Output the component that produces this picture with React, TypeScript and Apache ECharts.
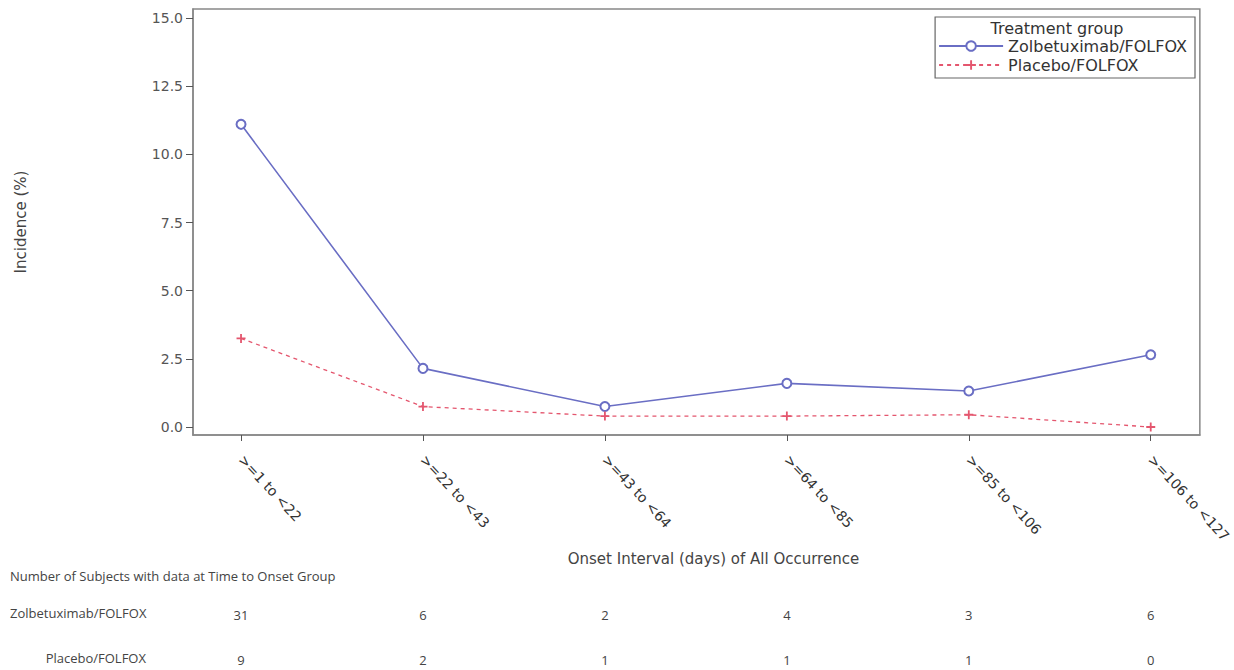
import React, { useEffect, useRef } from "react";
import * as echarts from "echarts";

const categories = [">=1 to <22", ">=22 to <43", ">=43 to <64", ">=64 to <85", ">=85 to <106", ">=106 to <127"];
const zolbeValues = [11.1, 2.15, 0.75, 1.6, 1.32, 2.65];
const placeboValues = [3.25, 0.75, 0.4, 0.4, 0.45, 0.0];
const zolbeCounts = [31, 6, 2, 4, 3, 6];
const placeboCounts = [9, 2, 1, 1, 1, 0];
const yTicks = [0, 2.5, 5, 7.5, 10, 12.5, 15];
const seriesNames = ["Zolbetuximab/FOLFOX", "Placebo/FOLFOX"];

const FONT = "'Open Sans', 'Liberation Sans', sans-serif";
const DJ = "'DejaVu Sans', Verdana, sans-serif";
const idx = categories.map((_, i) => i);
const XMIN = -0.264;
const XMAX = 5.27;

const countAxis = (counts: number[], offset: number) => ({
  type: "value",
  min: XMIN,
  max: XMAX,
  position: "bottom",
  offset,
  axisLine: { show: false, onZero: false },
  axisTick: { show: false },
  splitLine: { show: false },
  axisLabel: {
    customValues: idx,
    formatter: (v: number) => String(counts[Math.round(v)]),
    color: "#444",
    fontSize: 13,
    fontFamily: FONT,
    margin: 0,
    verticalAlign: "middle",
  },
});

export default function App() {
  const ref = useRef<HTMLDivElement>(null);
  useEffect(() => {
    document.body.style.margin = "0";
    const chart = echarts.init(ref.current!, null, { renderer: "svg" });
    chart.setOption({
      animation: false,
      backgroundColor: "#fff",
      grid: {
        left: 193,
        right: 34,
        top: 9,
        bottom: 235,
        show: true,
        borderColor: "#888",
        borderWidth: 1.5,
      },
      legend: {
        data: seriesNames,
        orient: "vertical",
        right: 39,
        top: 17,
        padding: [21, 8, 5, 3],
        borderColor: "#666",
        borderWidth: 1.2,
        itemWidth: 64,
        itemHeight: 12,
        itemGap: 3,
        textStyle: { fontFamily: DJ, fontSize: 16, color: "#333" },
      },
      graphic: [
        {
          type: "text",
          x: 1057,
          y: 20,
          style: { text: "Treatment group", font: `16px ${DJ}`, fill: "#333", align: "center" },
        },
        {
          type: "text",
          left: 10,
          top: 569,
          style: { text: "Number of Subjects with data at Time to Onset Group", font: `13px ${FONT}`, fill: "#444" },
        },
        {
          type: "text",
          left: 10,
          top: 606,
          style: { text: seriesNames[0], font: `13px ${FONT}`, fill: "#444" },
        },
        {
          type: "text",
          x: 146,
          y: 651,
          style: { text: seriesNames[1], font: `13px ${FONT}`, fill: "#444", align: "right" },
        },
      ],
      xAxis: [
        {
          type: "value",
          min: XMIN,
          max: XMAX,
          name: "Onset Interval (days) of All Occurrence",
          nameLocation: "middle",
          nameGap: 116,
          nameTextStyle: { fontFamily: DJ, fontSize: 15, color: "#444", padding: [0, 0, 0, 34] },
          axisLine: { show: true, onZero: false, lineStyle: { color: "#888", width: 1.5 } },
          axisTick: { show: true, customValues: idx, length: 6, lineStyle: { color: "#555" } },
          splitLine: { show: false },
          axisLabel: {
            customValues: idx,
            formatter: (v: number) => categories[Math.round(v)],
            rotate: -47,
            margin: 22,
            fontFamily: DJ,
            fontSize: 14,
            color: "#333",
          },
        },
        countAxis(zolbeCounts, 180),
        countAxis(placeboCounts, 225),
      ],
      yAxis: {
        type: "value",
        min: -0.293,
        max: 15.33,
        name: "Incidence (%)",
        nameLocation: "middle",
        nameGap: 165,
        nameTextStyle: { fontFamily: DJ, fontSize: 15, color: "#444" },
        axisLine: { show: true, onZero: false, lineStyle: { color: "#888", width: 1.5 } },
        axisTick: { show: true, customValues: yTicks, length: 7, lineStyle: { color: "#555" } },
        splitLine: { show: false },
        axisLabel: {
          customValues: yTicks,
          formatter: (v: number) => v.toFixed(1),
          fontFamily: DJ,
          fontSize: 14,
          color: "#555",
          margin: 10,
        },
      },
      series: [
        {
          name: seriesNames[0],
          type: "line",
          data: zolbeValues.map((v, i) => [i, v]),
          symbol: "emptyCircle",
          symbolSize: 9,
          color: "#6a6ec4",
          lineStyle: { color: "#6a6ec4", width: 1.6 },
          itemStyle: { color: "#6a6ec4", borderWidth: 1.4 },
        },
        {
          name: seriesNames[1],
          type: "line",
          data: placeboValues.map((v, i) => [i, v]),
          symbol: "path://M4,0H6V4H10V6H6V10H4V6H0V4H4Z",
          symbolSize: 9,
          color: "#e4566e",
          lineStyle: { color: "#e4566e", width: 1.3, type: [4, 4] },
          itemStyle: { color: "#e4566e" },
        },
      ],
    });
    return () => chart.dispose();
  }, []);
  return <div ref={ref} style={{ width: 1234, height: 670 }} />;
}
